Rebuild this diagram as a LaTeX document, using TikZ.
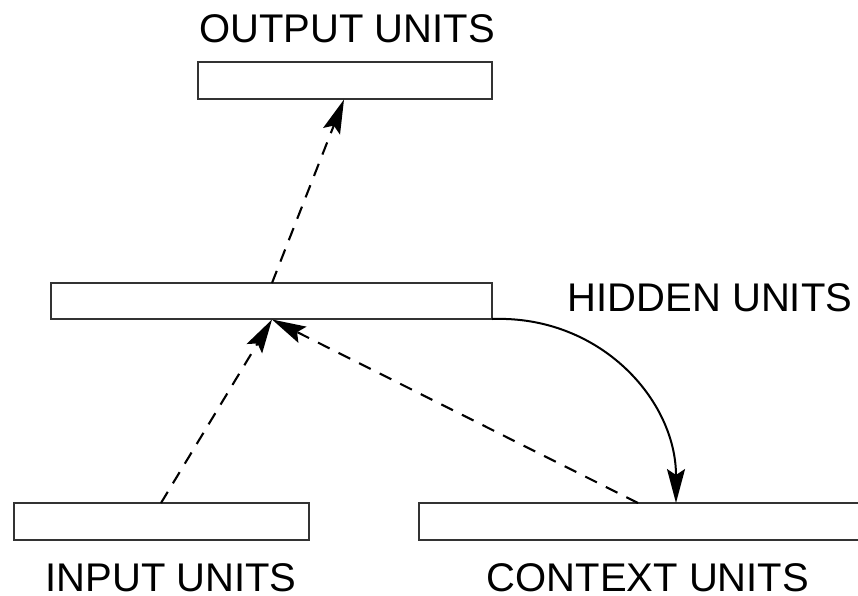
\documentclass[tikz,border=0pt]{standalone}
\usepackage{fontspec}
\setmainfont{Liberation Sans}
\usetikzlibrary{arrows.meta}
\begin{document}
\begin{tikzpicture}[x=1pt,y=-1pt,
  unitbox/.style={draw=black!80,line width=1.8pt,rectangle,inner sep=0pt,minimum height=37pt},
  lbl/.style={font=\fontsize{40}{48}\selectfont,inner sep=0pt,text=black,anchor=base,text depth=0pt},
  headtip/.style={-{Stealth[length=34pt,width=18pt,inset=6pt]}},
  dashlink/.style={headtip,line width=2.1pt,dash pattern=on 13pt off 10pt},
  recur/.style={headtip,line width=2pt}]
\useasboundingbox (0,0) rectangle (858,595);
\node[unitbox,minimum width=294pt] (out) at (345,80.5) {};
\node[unitbox,minimum width=441pt,minimum height=36pt] (hid) at (271.5,301) {};
\node[unitbox,minimum width=295pt] (inp) at (161.5,521.5) {};
\node[unitbox,minimum width=442pt] (ctx) at (640,521.5) {};
\node[lbl] (outl) at (347,42.5) {OUTPUT UNITS};
\node[lbl] (hidl) at (710,311.5) {HIDDEN UNITS};
\node[lbl] (inpl) at (171,591) {INPUT UNITS};
\node[lbl] (ctxl) at (648,591) {CONTEXT UNITS};
\coordinate (inTop) at (161,503);
\coordinate (hidBot) at (272,319.5);
\coordinate (hidTop) at (272,283);
\coordinate (outBot) at (344,99.5);
\coordinate (ctxFrom) at (638,503);
\coordinate (ctxTo) at (676,503);
\coordinate (hidRight) at (492,319);
\draw[dashlink] (inTop) -- (hidBot);
\draw[dashlink] (ctxFrom) -- (hidBot);
\draw[dashlink] (hidTop) -- (outBot);
\draw[recur] (hidRight) .. controls (600,315) and (676,400) .. (ctxTo);
\end{tikzpicture}
\end{document}
